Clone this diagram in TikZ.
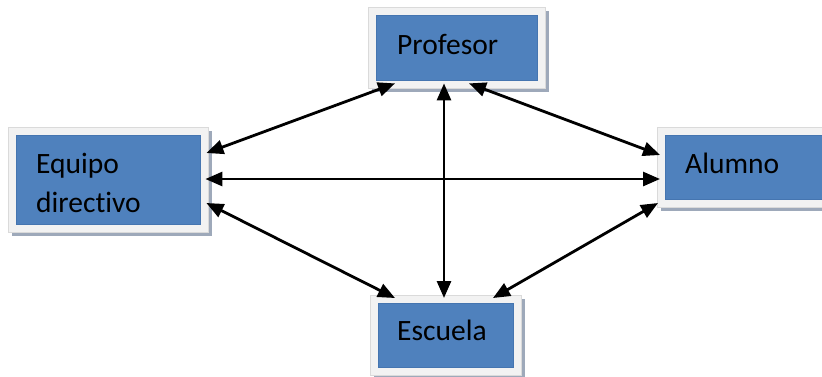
\documentclass[tikz,border=0pt]{standalone}
\usepackage{fontspec}
\setmainfont[Ligatures=NoCommon]{Carlito}
\usetikzlibrary{arrows.meta,calc,shadows}
\definecolor{boxblue}{HTML}{4F81BD}
\definecolor{boxedge}{HTML}{4575B0}
\definecolor{framegray}{HTML}{F2F2F2}
\definecolor{shadowgray}{HTML}{9EA9BA}
\tikzset{
  frame/.style={draw=framegray!90!black, line width=0.4pt, fill=framegray, anchor=north west, inner sep=0pt,
    drop shadow={shadow xshift=3.5pt, shadow yshift=-4pt, fill=shadowgray, opacity=1}},
  label/.style={anchor=base west, inner sep=0pt, font=\fontsize{29.5}{39}\selectfont, align=left},
  link/.style={line width=2.8pt, {Triangle[length=17pt,width=14pt]}-{Triangle[length=17pt,width=14pt]}}
}
\newcommand{\innerbox}[1]{\fill[boxblue, draw=boxedge, line width=0.5pt] ($(#1.north west)+(8,8)$) rectangle ($(#1.south east)+(-8,-8)$);}
\begin{document}
\begin{tikzpicture}[x=1pt,y=-1pt]
\clip (0,0) rectangle (822,376);
\fill[white] (0,0) rectangle (822,376);
% boxes
\node[frame, minimum width=177pt, minimum height=81pt] (P) at (368,7) {};
\node[frame, minimum width=200pt, minimum height=105pt] (E) at (8,127) {};
\node[frame, minimum width=180pt, minimum height=80pt] (A) at (657,127) {};
\node[frame, minimum width=151pt, minimum height=80pt] (S) at (370,295) {};
\innerbox{P}
\innerbox{E}
\innerbox{A}
\innerbox{S}
% labels
\node[label] (tP) at ($(P.north west)+(29,47)$) {Profesor};
\node[label] (tE) at ($(E.north west)+(28,85)$) {Equipo\\directivo};
\node[label] (tA) at ($(A.north west)+(28,46)$) {Alumno};
\node[label] (tS) at ($(S.north west)+(27,45)$) {Escuela};
% connectors
\draw[link] ($(E.north east)+(-2,26)$) -- ($(P.south west)+(27,-5)$);
\draw[link] ($(P.south west)+(101,-5)$) -- ($(A.north west)+(3,28)$);
\draw[link] ($(P.south west)+(76,-5)$) -- ($(S.north west)+(74,3)$);
\draw[link] ($(E.north east)+(-3,52)$) -- ($(A.north west)+(3,52)$);
\draw[link] ($(E.north east)+(-2,76)$) -- ($(S.north west)+(25,3)$);
\draw[link] ($(A.north west)+(1,76)$) -- ($(S.north west)+(123,3)$);
\end{tikzpicture}
\end{document}
